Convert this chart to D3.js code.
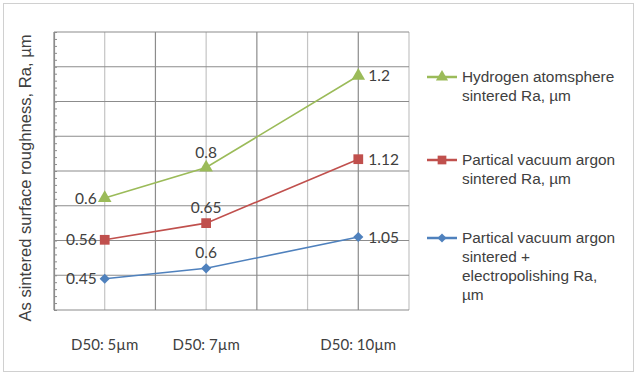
<!DOCTYPE html>
<html>
<head>
<meta charset="utf-8">
<script src="https://cdn.jsdelivr.net/npm/d3@7"></script>
<style>
  body { margin: 0; background: #fff; }
  svg { display: block; }
</style>
</head>
<body>
<div id="chart"></div>
<script>
// Rugosidad superficial tras sinterizado (líneas apiladas)
const particleSize = [5, 7, 10];
const xLabels = ["D50: 5µm", "D50: 7µm", "D50: 10µm"];
const electroRa = [0.45, 0.6, 1.05];
const vacuumRa = [0.56, 0.65, 1.12];
const hydrogenRa = [0.6, 0.8, 1.2];
const seriesNames = [
    ["Hydrogen atomsphere", "sintered Ra, µm"],
    ["Partical vacuum argon", "sintered Ra, µm"],
    ["Partical vacuum argon", "sintered +", "electropolishing Ra,", "µm"]
];

const width = 637;
const height = 375;
const margin = { top: 32, right: 228, bottom: 65, left: 54 };

const svg = d3.select("#chart")
    .append("svg")
    .attr("width", width)
    .attr("height", height);

// marco exterior
svg.append("rect")
    .attr("x", 3.5).attr("y", 3.5)
    .attr("width", 630).attr("height", 368)
    .attr("fill", "#fff")
    .attr("stroke", "#d0d0d0");

const x = d3.scaleLinear()
    .domain([4, 11])
    .range([margin.left, width - margin.right]);

const y = d3.scaleLinear()
    .domain([0, 4])
    .range([height - margin.bottom, margin.top]);

// apilado: azul abajo, rojo en medio, verde arriba
const series = [
    { key: "electro", values: electroRa, color: "#4f81bd", shape: "diamond", name: seriesNames[2] },
    { key: "vacuum", values: vacuumRa, color: "#c0504d", shape: "square", name: seriesNames[1] },
    { key: "hydrogen", values: hydrogenRa, color: "#9bbb59", shape: "triangle", name: seriesNames[0] }
];
let acc = particleSize.map(() => 0);
series.forEach(s => {
    acc = acc.map((a, i) => a + s.values[i]);
    s.stacked = acc.slice();
});

// rejilla vertical
svg.append("g")
    .selectAll("line")
    .data(d3.range(4, 12))
    .enter()
    .append("line")
    .attr("x1", d => x(d)).attr("x2", d => x(d))
    .attr("y1", y(4)).attr("y2", y(0))
    .attr("stroke", d => d % 2 === 0 ? "#8c8c8c" : "#c4c4c4")
    .attr("stroke-width", 1.2);

// rejilla horizontal
svg.append("g")
    .selectAll("line")
    .data(d3.range(0, 4.01, 0.5))
    .enter()
    .append("line")
    .attr("x1", x(4)).attr("x2", x(11))
    .attr("y1", d => y(d)).attr("y2", d => y(d))
    .attr("stroke", "#8c8c8c")
    .attr("stroke-width", 1.2);

// eje y con marcas menores hacia dentro
const yAxis = svg.append("g")
    .attr("transform", `translate(${x(4)},0)`)
    .call(d3.axisRight(y).tickValues(d3.range(0, 4.01, 0.1)).tickSize(3).tickFormat(""));
yAxis.select(".domain").attr("stroke", "#8c8c8c").attr("stroke-width", 1.2);
yAxis.selectAll(".tick line").attr("stroke", "#8c8c8c");

// etiquetas eje x
svg.append("g")
    .selectAll("text")
    .data(particleSize)
    .enter()
    .append("text")
    .attr("x", d => x(d))
    .attr("y", 350)
    .attr("text-anchor", "middle")
    .attr("font-family", "Lato, 'Open Sans', sans-serif")
    .attr("font-size", 15)
    .attr("fill", "#404040")
    .text((d, i) => xLabels[i]);

// título eje y
svg.append("text")
    .attr("transform", `translate(31,${(y(0) + y(4)) / 2 + 7}) rotate(-90)`)
    .attr("text-anchor", "middle")
    .attr("font-family", "'Liberation Sans', Arial, sans-serif")
    .attr("font-size", 16.6)
    .attr("fill", "#404040")
    .text("As sintered surface roughness, Ra, µm");

const line = d3.line()
    .x((d, i) => x(particleSize[i]))
    .y(d => y(d));

// rombo = cuadrado girado 45°
const markers = {
    diamond: { type: d3.symbolSquare, size: 52, rot: 45 },
    square: { type: d3.symbolSquare, size: 95, rot: 0 },
    triangle: { type: d3.symbolTriangle, size: 80, rot: 0 }
};

series.forEach(s => {
    const m = markers[s.shape];
    svg.append("path")
        .datum(s.stacked)
        .attr("fill", "none")
        .attr("stroke", s.color)
        .attr("stroke-width", 1.6)
        .attr("d", line);

    svg.selectAll(`.pt-${s.key}`)
        .data(s.stacked)
        .enter()
        .append("path")
        .attr("class", `pt-${s.key}`)
        .attr("transform", (d, i) => `translate(${x(particleSize[i])},${y(d)}) rotate(${m.rot})`)
        .attr("d", d3.symbol().type(m.type).size(m.size))
        .attr("fill", s.color);

    // etiquetas de datos: izquierda, arriba, derecha
    svg.selectAll(`.lb-${s.key}`)
        .data(s.stacked)
        .enter()
        .append("text")
        .attr("class", `lb-${s.key}`)
        .attr("x", (d, i) => i === 0 ? x(particleSize[i]) - 8 : i === 1 ? x(particleSize[i]) : x(particleSize[i]) + 10)
        .attr("y", (d, i) => i === 1 ? y(d) - 10 : y(d) + 5.5)
        .attr("text-anchor", (d, i) => i === 0 ? "end" : i === 1 ? "middle" : "start")
        .attr("font-family", "Lato, 'Open Sans', sans-serif")
        .attr("font-size", 15.5)
        .attr("fill", "#404040")
        .text((d, i) => s.values[i]);
});

// leyenda
const legendTop = [77, 160, 238];
const legendOrder = [series[2], series[1], series[0]];
legendOrder.forEach((s, k) => {
    const m = markers[s.shape];
    const g = svg.append("g").attr("transform", `translate(427,${legendTop[k]})`);
    g.append("line")
        .attr("x1", 0).attr("x2", 30)
        .attr("stroke", s.color).attr("stroke-width", 2.5);
    g.append("path")
        .attr("transform", `translate(15,0) rotate(${m.rot})`)
        .attr("d", d3.symbol().type(m.type).size(m.size * 0.8))
        .attr("fill", s.color);
    g.selectAll("text")
        .data(s.name)
        .enter()
        .append("text")
        .attr("x", 35)
        .attr("y", (d, i) => 5 + i * 19)
        .attr("font-family", "'Liberation Sans', Arial, sans-serif")
        .attr("font-size", 15.4)
        .attr("fill", "#404040")
        .text(d => d);
});
</script>
</body>
</html>
